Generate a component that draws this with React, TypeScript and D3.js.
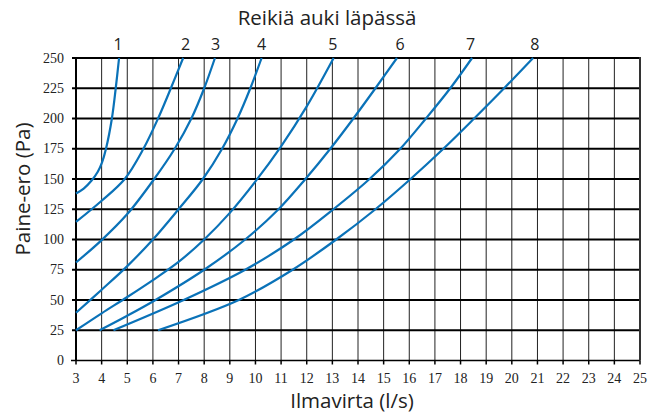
import React from "react";
import * as d3 from "d3";

// Curves: [airflow l/s, pressure Pa]
const curve1: [number, number][] = [[3, 138], [3.3, 142], [3.6, 148.5], [3.85, 156], [4.02, 164], [4.17, 175], [4.4, 200], [4.55, 225], [4.68, 250]];
const curve2: [number, number][] = [[3, 114.5], [4, 132], [4.9, 150], [5.63, 175], [6.2, 200], [6.7, 225], [7.18, 250]];
const curve3: [number, number][] = [[3, 81], [4, 99.5], [5, 121], [6.05, 150], [6.85, 175], [7.5, 200], [8.0, 225], [8.42, 250]];
const curve4: [number, number][] = [[3, 39.5], [4, 58.5], [5, 78], [6, 100], [7, 125], [7.95, 150], [8.7, 175], [9.3, 200], [9.8, 225], [10.24, 250]];
const curve5: [number, number][] = [[3, 25], [4, 39], [5, 52.5], [6, 66.5], [7, 81.5], [8, 100], [9, 122], [10, 148], [11, 177], [12, 210], [13.05, 250]];
const curve6: [number, number][] = [[3.92, 25], [5, 37], [6.1, 50], [8.0, 75], [9.6, 100], [10.9, 125], [11.95, 150], [12.92, 175], [13.82, 200], [14.68, 225], [15.52, 250]];
const curve7: [number, number][] = [[4.46, 25], [7.2, 50], [9.6, 75], [11.5, 100], [13.04, 125], [14.45, 150], [15.65, 175], [16.65, 200], [17.6, 225], [18.45, 250]];
const curve8: [number, number][] = [[6.2, 25], [9.35, 50], [11.45, 75], [13.15, 100], [14.68, 125], [16.05, 150], [17.33, 175], [18.53, 200], [19.7, 225], [20.83, 250]];

const curves = [curve1, curve2, curve3, curve4, curve5, curve6, curve7, curve8];
const curveLabels = ["1", "2", "3", "4", "5", "6", "7", "8"];
const curveLabelFlow = [4.64, 7.27, 8.44, 10.24, 13.02, 15.64, 18.39, 20.9];

const xTicks = d3.range(3, 26, 1);
const yTicks = d3.range(0, 251, 25);

const title = "Reikiä auki läpässä";
const xTitle = "Ilmavirta (l/s)";
const yTitle = "Paine-ero (Pa)";

const W = 662;
const H = 418;
const left = 76;
const right = 640;
const top = 58;
const bottom = 360.5;

export default function App() {
  const x = d3.scaleLinear().domain([3, 25]).range([left, right]);
  const y = d3.scaleLinear().domain([0, 250]).range([bottom, top]);
  const line = d3
    .line<[number, number]>()
    .x((d) => x(d[0]))
    .y((d) => y(d[1]))
    .curve(d3.curveCatmullRom.alpha(0.5));

  const sans = "'Open Sans', 'Noto Sans', sans-serif";
  const serif = "'Liberation Serif', 'Times New Roman', serif";
  const blue = "#0a72b8";

  return (
    <svg
      width={W}
      height={H}
      style={{ position: "absolute", left: 0, top: 0, background: "#fff" }}
    >
      <rect x={0} y={0} width={W} height={H} fill="#fff" />
      {/* vertical grid */}
      {xTicks.map((t) => (
        <line key={"vx" + t} x1={x(t)} x2={x(t)} y1={top} y2={bottom} stroke="#222" strokeWidth={1} />
      ))}
      {/* x tick marks */}
      {xTicks.map((t) => (
        <line key={"tx" + t} x1={x(t)} x2={x(t)} y1={bottom} y2={bottom + 4} stroke="#000" strokeWidth={1.5} />
      ))}
      {/* horizontal grid */}
      {yTicks.map((t) => (
        <line
          key={"hy" + t}
          x1={t === 0 ? left - 5 : left - 4}
          x2={right}
          y1={y(t)}
          y2={y(t)}
          stroke="#000"
          strokeWidth={t === 0 ? 1.5 : 2}
        />
      ))}
      {/* border */}
      <line x1={left} x2={left} y1={top} y2={bottom} stroke="#000" strokeWidth={2} />
      <line x1={right} x2={right} y1={top - 1} y2={bottom} stroke="#333" strokeWidth={2} />

      {/* curves */}
      {curves.map((c, i) => (
        <path key={"c" + i} d={line(c) || ""} fill="none" stroke={blue} strokeWidth={2.2} />
      ))}

      {/* y tick labels */}
      {yTicks.map((t) => (
        <text
          key={"ly" + t}
          x={left - 12}
          y={y(t) + 4.5}
          textAnchor="end"
          fontFamily={serif}
          fontSize={14}
          fill="#222"
        >
          {t}
        </text>
      ))}
      {/* x tick labels */}
      {xTicks.map((t) => (
        <text
          key={"lx" + t}
          x={x(t)}
          y={383}
          textAnchor="middle"
          fontFamily={serif}
          fontSize={14}
          fill="#222"
        >
          {t}
        </text>
      ))}

      {/* curve labels */}
      {curveLabels.map((l, i) => (
        <text
          key={"cl" + i}
          x={x(curveLabelFlow[i])}
          y={50}
          textAnchor="middle"
          fontFamily={sans}
          fontSize={16}
          fill="#222"
        >
          {l}
        </text>
      ))}

      <text x={327} y={25} textAnchor="middle" fontFamily={sans} fontSize={20.5} fill="#222">
        {title}
      </text>
      <text x={352} y={408} textAnchor="middle" fontFamily={sans} fontSize={20.5} fill="#222">
        {xTitle}
      </text>
      <text
        transform={`translate(30, 189) rotate(-90)`}
        textAnchor="middle"
        fontFamily={sans}
        fontSize={20.5}
        fill="#222"
      >
        {yTitle}
      </text>
    </svg>
  );
}
